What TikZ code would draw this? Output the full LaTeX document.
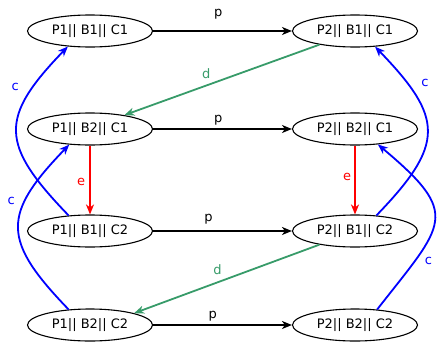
\documentclass[tikz,border=0pt]{standalone}
\usepackage{fontspec}
\setmainfont{DejaVu Sans}
\usetikzlibrary{arrows.meta,shapes.geometric}
\definecolor{dgreen}{RGB}{55,155,105}
\begin{document}
\begin{tikzpicture}[x=1pt,y=1pt,
  st/.style={draw, ellipse, line width=1.1pt, minimum width=125pt, minimum height=32pt, inner sep=0pt, font=\fontsize{13}{15}\selectfont},
  arr/.style={line width=1.8pt, -{Stealth[length=10pt,width=8pt,inset=3pt]}},
  lab/.style={font=\fontsize{13}{15}\selectfont, inner sep=0pt}]
\useasboundingbox (0,0) rectangle (438,341);
\node[st] (n111) at (90,310) {P1|| B1|| C1};
\node[st] (n211) at (355,310) {P2|| B1|| C1};
\node[st] (n121) at (90,212) {P1|| B2|| C1};
\node[st] (n221) at (355,212) {P2|| B2|| C1};
\node[st] (n112) at (90,110) {P1|| B1|| C2};
\node[st] (n212) at (355,110) {P2|| B1|| C2};
\node[st] (n122) at (90,16) {P1|| B2|| C2};
\node[st] (n222) at (355,16) {P2|| B2|| C2};
% p
\draw[arr] (n111) -- node[lab,pos=0.47,yshift=17pt]{p} (n211);
\draw[arr] (n121) -- node[lab,pos=0.47,yshift=9pt]{p} (n221);
\draw[arr] (n112) -- node[lab,pos=0.40,yshift=12pt]{p} (n212);
\draw[arr] (n122) -- node[lab,pos=0.43,yshift=9pt]{p} (n222);
% d
\draw[arr,dgreen] (n211.-159) -- node[lab,pos=0.58,yshift=12pt]{d} (n121.22);
\draw[arr,dgreen] (n212.-159) -- node[lab,pos=0.55,yshift=13pt]{d} (n122.15);
% e
\draw[arr,red] (n121) -- node[lab,pos=0.53,xshift=-9pt]{e} (n112);
\draw[arr,red] (n221) -- node[lab,pos=0.46,xshift=-8pt]{e} (n212);
% c
\draw[arr,blue] (n112.144) to[out=134,in=-134,looseness=1.5] node[lab,pos=0.75,xshift=-14pt,yshift=6pt]{c} (n111.-145);
\draw[arr,blue] (n122.144) to[out=134,in=-134,looseness=1.5] node[lab,pos=0.65,xshift=-12pt,yshift=4pt]{c} (n121.-143);
\draw[arr,blue] (n212.36) to[out=46,in=-46,looseness=1.5] node[lab,pos=0.75,xshift=11pt,yshift=10pt]{c} (n211.-38);
\draw[arr,blue] (n222.35) to[out=52,in=-40,looseness=1.7] node[lab,pos=0.24,xshift=12pt,yshift=-2pt]{c} (n221.-34);
\end{tikzpicture}
\end{document}
